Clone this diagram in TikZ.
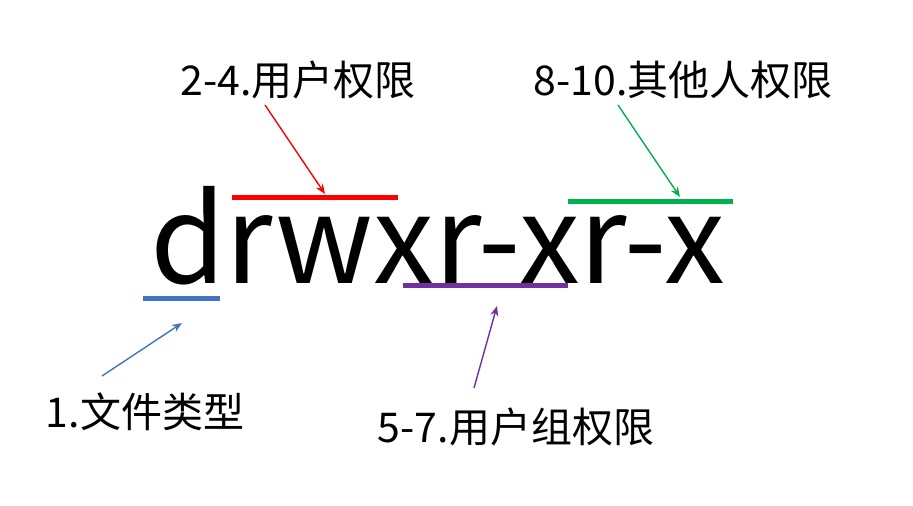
\documentclass[tikz,border=0pt]{standalone}
\usepackage{fontspec}
\setmainfont{Noto Sans CJK SC}
\usetikzlibrary{arrows.meta}
\definecolor{pred}{HTML}{FF0000}
\definecolor{pgreen}{HTML}{00B050}
\definecolor{pblue}{HTML}{4472C4}
\definecolor{ppurple}{HTML}{7030A0}
\tikzset{
  lbl/.style={font=\fontsize{41}{44}\selectfont},
  bar/.style={line width=5pt},
  pointer/.style={-{Stealth[length=10pt,width=8pt]}, line width=1.4pt}
}
\begin{document}
\begin{tikzpicture}[x=1pt, y=-1pt]
  \useasboundingbox (0,0) rectangle (913,506);
  \node[inner sep=0pt, anchor=base west] (perm) at (150,283)
    {\resizebox{575pt}{!}{\fontsize{120}{120}\selectfont drwxr-xr-x}};

  \node[lbl] (user) at (298,80) {2-4.用户权限};
  \node[lbl] (other) at (683,80) {8-10.其他人权限};
  \node[lbl] (type) at (145,412) {1.文件类型};
  \node[lbl] (group) at (516,427) {5-7.用户组权限};

  % bars
  \draw[bar, pred] (232,197) -- (398,197);
  \draw[bar, pgreen] (568,201) -- (733,201);
  \draw[bar, pblue] (143,298) -- (220,298);
  \draw[bar, ppurple] (403,285) -- (568,285);

  % pointers
  \coordinate (uend) at (325,194);
  \coordinate (oend) at (680,197);
  \coordinate (tbeg) at (102,376);
  \coordinate (tend) at (182,323);
  \coordinate (gbeg) at (474,388);
  \coordinate (gend) at (497,306);
  \draw[pointer, pred] (265,105) -- (uend);
  \draw[pointer, pgreen] (618,105) -- (oend);
  \draw[pointer, pblue] (tbeg) -- (tend);
  \draw[pointer, ppurple] (gbeg) -- (gend);
\end{tikzpicture}
\end{document}
